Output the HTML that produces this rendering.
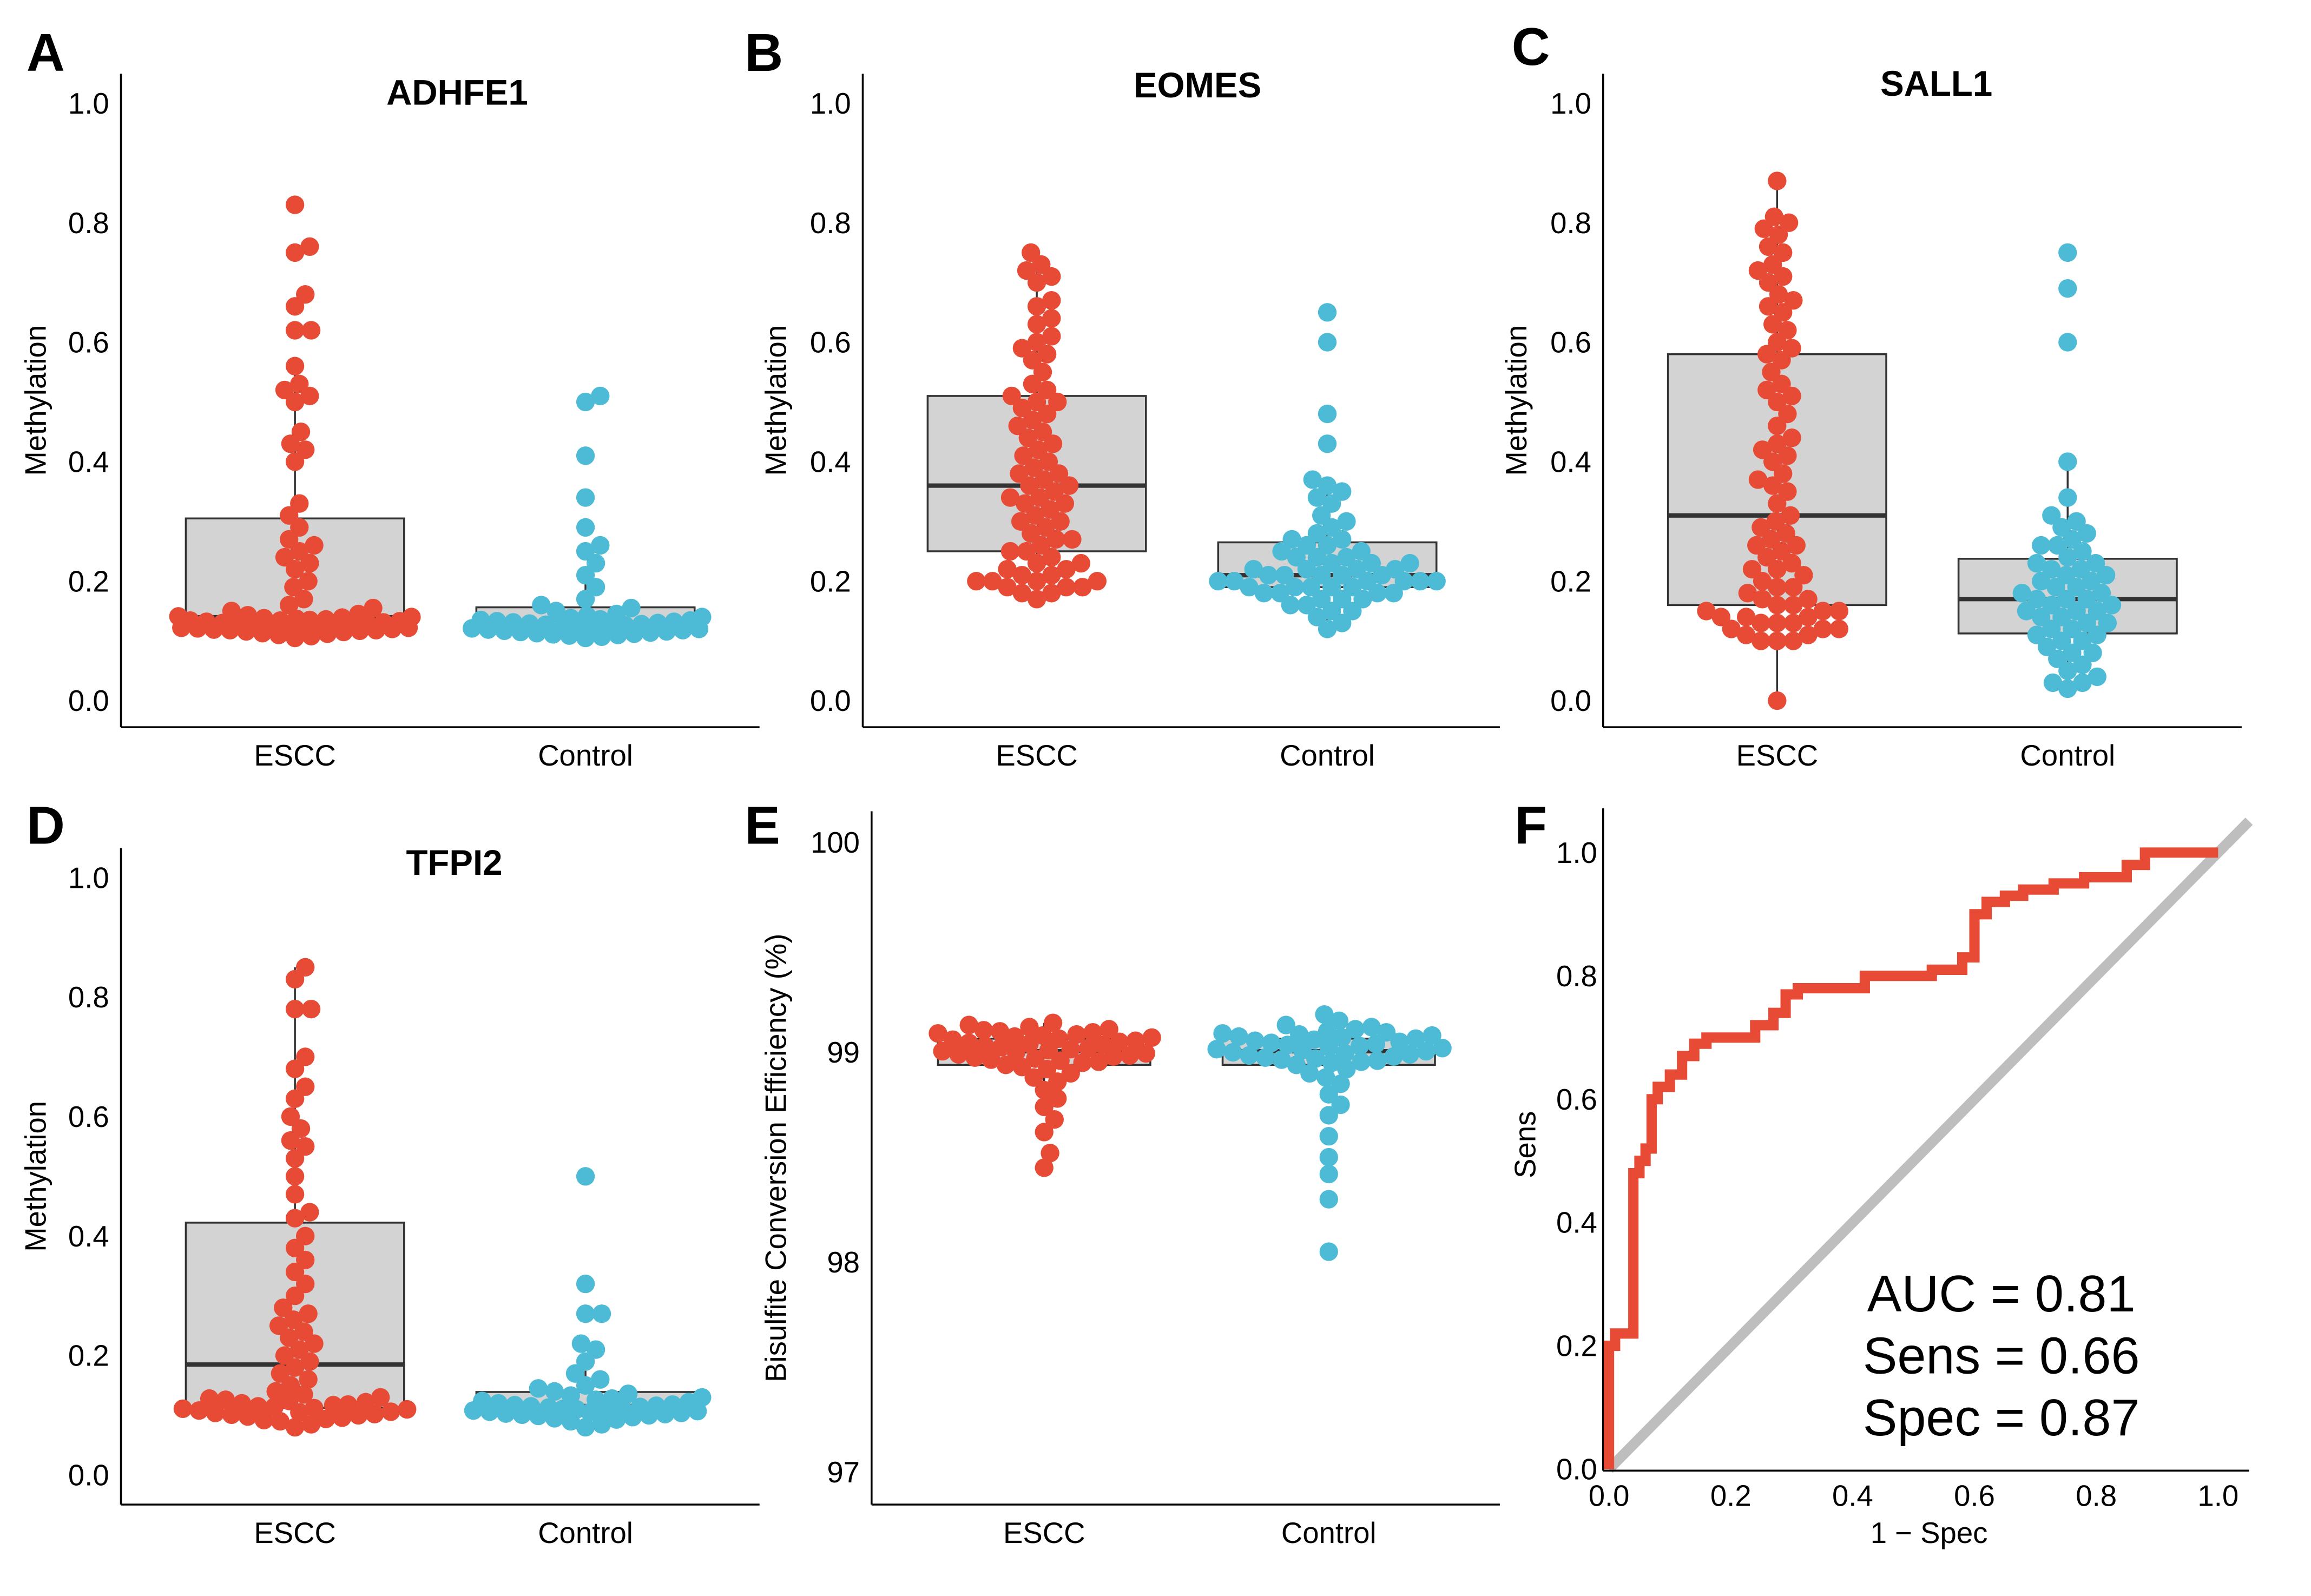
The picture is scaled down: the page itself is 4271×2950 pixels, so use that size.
<!DOCTYPE html>
<html><head><meta charset="utf-8"><style>
html,body{margin:0;padding:0;background:#fff}
svg{display:block}
text{font-family:"Liberation Sans",Arial,sans-serif;fill:#000}
</style></head><body>
<svg id="fig" width="4271" height="2950" viewBox="0 0 1567 1082" preserveAspectRatio="none" xmlns="http://www.w3.org/2000/svg"></svg>
<script>
const A_escc=[0.105,0.108,0.11,0.112,0.113,0.115,0.116,0.117,0.118,0.118,0.119,0.12,0.121,0.122,0.122,0.123,0.124,0.125,0.126,0.126,0.127,0.128,0.129,0.13,0.13,0.131,0.132,0.133,0.134,0.134,0.135,0.136,0.137,0.138,0.139,0.14,0.141,0.143,0.145,0.15,0.155,0.16,0.17,0.19,0.2,0.22,0.23,0.24,0.25,0.26,0.27,0.29,0.31,0.33,0.4,0.42,0.43,0.45,0.5,0.51,0.52,0.53,0.56,0.62,0.62,0.66,0.68,0.75,0.76,0.83];
const A_ctrl=[0.105,0.107,0.109,0.11,0.111,0.112,0.113,0.114,0.115,0.116,0.117,0.118,0.119,0.12,0.121,0.122,0.123,0.124,0.125,0.126,0.127,0.128,0.129,0.13,0.131,0.132,0.133,0.134,0.135,0.136,0.138,0.14,0.142,0.145,0.15,0.155,0.16,0.17,0.19,0.21,0.23,0.25,0.26,0.29,0.34,0.41,0.5,0.51];
const B_escc=[0.17,0.18,0.18,0.19,0.19,0.19,0.2,0.2,0.2,0.2,0.21,0.21,0.22,0.22,0.23,0.23,0.24,0.25,0.25,0.26,0.27,0.27,0.28,0.29,0.3,0.3,0.31,0.32,0.33,0.33,0.34,0.34,0.35,0.36,0.36,0.37,0.38,0.38,0.39,0.4,0.41,0.42,0.43,0.44,0.45,0.46,0.47,0.48,0.49,0.5,0.5,0.51,0.52,0.53,0.55,0.57,0.58,0.59,0.6,0.61,0.63,0.64,0.66,0.67,0.7,0.71,0.72,0.73,0.75];
const B_ctrl=[0.12,0.13,0.14,0.15,0.15,0.16,0.16,0.17,0.17,0.17,0.18,0.18,0.18,0.18,0.19,0.19,0.19,0.19,0.19,0.2,0.2,0.2,0.2,0.2,0.2,0.21,0.21,0.21,0.21,0.21,0.22,0.22,0.22,0.22,0.23,0.23,0.23,0.24,0.24,0.24,0.25,0.25,0.26,0.26,0.27,0.27,0.28,0.29,0.3,0.31,0.33,0.34,0.35,0.36,0.37,0.43,0.48,0.6,0.65];
const C_escc=[0.0,0.1,0.1,0.1,0.11,0.11,0.12,0.12,0.12,0.13,0.13,0.13,0.14,0.14,0.14,0.15,0.15,0.15,0.16,0.16,0.17,0.17,0.18,0.19,0.19,0.2,0.21,0.22,0.22,0.23,0.24,0.25,0.26,0.26,0.27,0.28,0.29,0.3,0.31,0.33,0.35,0.36,0.37,0.38,0.4,0.41,0.42,0.43,0.44,0.46,0.48,0.5,0.51,0.52,0.53,0.55,0.57,0.58,0.59,0.6,0.62,0.63,0.65,0.66,0.67,0.68,0.7,0.71,0.72,0.73,0.75,0.76,0.78,0.79,0.8,0.81,0.87];
const C_ctrl=[0.02,0.03,0.03,0.04,0.05,0.06,0.07,0.08,0.08,0.09,0.1,0.1,0.11,0.11,0.12,0.12,0.13,0.13,0.14,0.14,0.15,0.15,0.15,0.16,0.16,0.17,0.17,0.17,0.18,0.18,0.19,0.19,0.2,0.2,0.21,0.21,0.22,0.22,0.23,0.23,0.24,0.25,0.26,0.26,0.27,0.28,0.29,0.3,0.31,0.34,0.4,0.6,0.69,0.75];
const D_escc=[0.08,0.085,0.09,0.092,0.094,0.096,0.098,0.1,0.101,0.102,0.104,0.105,0.106,0.108,0.11,0.111,0.112,0.114,0.115,0.117,0.118,0.12,0.122,0.124,0.126,0.128,0.13,0.135,0.14,0.15,0.16,0.17,0.18,0.19,0.2,0.21,0.22,0.23,0.24,0.25,0.26,0.27,0.28,0.3,0.32,0.34,0.36,0.38,0.4,0.43,0.44,0.47,0.5,0.53,0.55,0.56,0.58,0.6,0.63,0.65,0.68,0.7,0.78,0.78,0.83,0.85];
const D_ctrl=[0.08,0.085,0.09,0.093,0.095,0.097,0.099,0.1,0.101,0.102,0.103,0.104,0.105,0.106,0.107,0.108,0.109,0.11,0.111,0.112,0.113,0.114,0.115,0.116,0.117,0.118,0.12,0.122,0.124,0.126,0.128,0.13,0.133,0.136,0.14,0.145,0.15,0.16,0.17,0.19,0.21,0.22,0.27,0.27,0.32,0.5];
const E_escc=[98.45,98.52,98.62,98.68,98.74,98.78,98.82,98.86,98.88,98.9,98.92,98.93,98.94,98.95,98.955,98.96,98.965,98.97,98.975,98.98,98.985,98.99,98.995,99.0,99.005,99.01,99.015,99.02,99.025,99.03,99.035,99.04,99.045,99.05,99.055,99.06,99.065,99.07,99.075,99.08,99.085,99.09,99.095,99.1,99.105,99.11,99.12,99.13,99.14];
const E_ctrl=[98.05,98.3,98.42,98.5,98.6,98.7,98.75,98.8,98.85,98.88,98.9,98.92,98.94,98.95,98.955,98.96,98.965,98.97,98.975,98.98,98.985,98.99,98.995,99.0,99.005,99.01,99.015,99.02,99.025,99.03,99.035,99.04,99.045,99.05,99.055,99.06,99.065,99.07,99.075,99.08,99.085,99.09,99.095,99.1,99.11,99.12,99.13,99.15,99.18];
const roc_fpr=[0,0,0.01,0.01,0.04,0.04,0.05,0.05,0.06,0.06,0.07,0.07,0.08,0.08,0.1,0.1,0.12,0.12,0.14,0.14,0.16,0.16,0.24,0.24,0.27,0.27,0.29,0.29,0.31,0.31,0.42,0.42,0.53,0.53,0.58,0.58,0.6,0.6,0.62,0.62,0.65,0.65,0.68,0.68,0.73,0.73,0.78,0.78,0.85,0.85,0.88,0.88,1];
const roc_tpr=[0,0.2,0.2,0.22,0.22,0.48,0.48,0.5,0.5,0.52,0.52,0.6,0.6,0.62,0.62,0.64,0.64,0.67,0.67,0.69,0.69,0.7,0.7,0.72,0.72,0.74,0.74,0.77,0.77,0.78,0.78,0.8,0.8,0.81,0.81,0.83,0.83,0.9,0.9,0.92,0.92,0.93,0.93,0.94,0.94,0.95,0.95,0.96,0.96,0.98,0.98,1,1];
const metTicks=["0.0","0.2","0.4","0.6","0.8","1.0"];
const effTicks=["97","98","99","100"];
const rocTicks=["0.0","0.2","0.4","0.6","0.8","1.0"];
const groups=["ESCC","Control"];
const RED="#E84B35",BLUE="#4DBBD5";
const svg=document.getElementById('fig');
const NS="http://www.w3.org/2000/svg";
function el(t,a,p){const e=document.createElementNS(NS,t);for(const k in a)e.setAttribute(k,a[k]);(p||svg).appendChild(e);return e;}
function txt(s,a,p){const e=el('text',a,p);e.textContent=s;return e;}
function q(arr,p){const s=[...arr].sort((a,b)=>a-b);const i=(s.length-1)*p,lo=Math.floor(i),hi=Math.ceil(i);return s[lo]+(s[hi]-s[lo])*(i-lo);}
function swarm(vals,cx,ys,g,color,maxW){
  const r=6.3,d=10.5;const placed=[];
  const s=[...vals].sort((a,b)=>a-b);
  s.forEach(v=>{const y=ys(v);let x=cx,best=-1,bx=cx,found=false;
    for(let k=0;k<=2*maxW;k++){const off=(k%2?1:-1)*Math.ceil(k/2);const xx=cx+off;
      let md=1e9;placed.forEach(p=>{const dd=Math.hypot(p[0]-xx,p[1]-y);if(dd<md)md=dd;});
      if(md>=d){x=xx;found=true;break;}
      if(md>best){best=md;bx=xx;}}
    if(!found)x=bx;
    placed.push([x,y]);
    const c=el('circle',{cx:x,cy:y,r:r,fill:color},g);
    
    
  });
}
function box(vals,cx,hw,ys,g){
  const q1=q(vals,0.25),q3=q(vals,0.75),md=q(vals,0.5),iqr=q3-q1;
  const lo=Math.min(...vals.filter(v=>v>=q1-1.5*iqr)),hi=Math.max(...vals.filter(v=>v<=q3+1.5*iqr));
  const w=el('line',{x1:cx,x2:cx,y1:ys(hi),y2:ys(lo),stroke:"#333","stroke-width":1.3},g);
  
  const b=el('rect',{x:cx-hw,y:ys(q3),width:2*hw,height:ys(q1)-ys(q3),fill:"#d3d3d3",stroke:"#333","stroke-width":1.3},g);
  
  const m=el('line',{x1:cx-hw,x2:cx+hw,y1:ys(md),y2:ys(md),stroke:"#333","stroke-width":3},g);
  
}
function panel(o){
  const g=el('g',{});
  
  
  const ys=v=>o.y0-(v-o.vmin)*o.k;
  txt(o.letter,{x:o.lx,y:o.ly,"font-size":36,"font-weight":"bold",},g);
  if(o.title)txt(o.title,{x:o.tx,y:o.ty,"font-size":24,"font-weight":"bold","text-anchor":"middle",},g);
  el('line',{x1:o.ax,x2:o.ax,y1:o.top,y2:o.bot,stroke:"#000","stroke-width":1.3,},g);
  el('line',{x1:o.ax,x2:o.ar,y1:o.bot,y2:o.bot,stroke:"#000","stroke-width":1.3,},g);
  o.ticks.forEach(t=>{txt(t,{x:o.ax-8,y:ys(parseFloat(t))+7,"font-size":20,"text-anchor":"end",},g);});
  const my=(o.top+o.bot)/2;
  txt(o.ylab,{x:o.ylx,y:my,"font-size":20,"text-anchor":"middle",transform:`rotate(-90 ${o.ylx} ${my})`,},g);
  groups.forEach((n,i)=>{txt(n,{x:o.cx[i],y:o.bot+26,"font-size":20,"text-anchor":"middle",},g);});
  box(o.d[0],o.cx[0],o.hw,ys,g);box(o.d[1],o.cx[1],o.hw,ys,g);
  swarm(o.d[0],o.cx[0],ys,g,RED,o.hw+5);swarm(o.d[1],o.cx[1],ys,g,BLUE,o.hw+5);
}
panel({letter:"A",lx:18,ly:48,title:"ADHFE1",tx:310,ty:71,ax:82,ar:515,top:50,bot:493,y0:475,vmin:0,k:405,ticks:metTicks,ylab:"Methylation",ylx:31,cx:[200,397],hw:74,d:[A_escc,A_ctrl]});
panel({letter:"B",lx:505,ly:48,title:"EOMES",tx:812,ty:66,ax:585,ar:1017,top:50,bot:493,y0:475,vmin:0,k:405,ticks:metTicks,ylab:"Methylation",ylx:533,cx:[703,900],hw:74,d:[B_escc,B_ctrl]});
panel({letter:"C",lx:1025,ly:44,title:"SALL1",tx:1313,ty:65,ax:1087,ar:1520,top:50,bot:493,y0:475,vmin:0,k:405,ticks:metTicks,ylab:"Methylation",ylx:1035,cx:[1205,1402],hw:74,d:[C_escc,C_ctrl]});
panel({letter:"D",lx:18,ly:572,title:"TFPI2",tx:308,ty:593,ax:82,ar:515,top:575,bot:1020,y0:1000,vmin:0,k:405,ticks:metTicks,ylab:"Methylation",ylx:31,cx:[200,397],hw:74,d:[D_escc,D_ctrl]});
panel({letter:"E",lx:505,ly:572,title:"",ax:591,ar:1017,top:550,bot:1020,y0:998,vmin:97,k:142.3,ticks:effTicks,ylab:"Bisulfite Conversion Efficiency (%)",ylx:533,cx:[708,901],hw:72,d:[E_escc,E_ctrl]});
(function(){
  const g=el('g',{});
  
  const xs=v=>1091+v*413, ys=v=>996-v*418;
  txt("F",{x:1027,y:572,"font-size":36,"font-weight":"bold",},g);
  el('line',{x1:xs(0),y1:ys(0),x2:1525,y2:ys((1525-1091)/413),stroke:"#bebebe","stroke-width":7,},g);
  el('line',{x1:1087,x2:1087,y1:548,y2:997,stroke:"#000","stroke-width":1.3,},g);
  el('line',{x1:1087,x2:1525,y1:997,y2:997,stroke:"#000","stroke-width":1.3,},g);
  rocTicks.forEach(t=>{const v=parseFloat(t);
    txt(t,{x:1083,y:ys(v)+7,"font-size":20,"text-anchor":"end",},g);
    txt(t,{x:xs(v),y:1021,"font-size":20,"text-anchor":"middle",},g);});
  txt("Sens",{x:1041,y:776,"font-size":20,"text-anchor":"middle",transform:"rotate(-90 1041 776)",},g);
  txt("1 − Spec",{x:1308,y:1046,"font-size":20,"text-anchor":"middle",},g);
  const pts=roc_fpr.map((f,i)=>xs(f)+","+ys(roc_tpr[i])).join(" ");
  el('polyline',{points:pts,fill:"none",stroke:RED,"stroke-width":7,},g);
  ["AUC = 0.81","Sens = 0.66","Spec = 0.87"].forEach((s,i)=>txt(s,{x:1357,y:889+i*42,"font-size":35,"text-anchor":"middle",},g));
})();
</script>
</body></html>
